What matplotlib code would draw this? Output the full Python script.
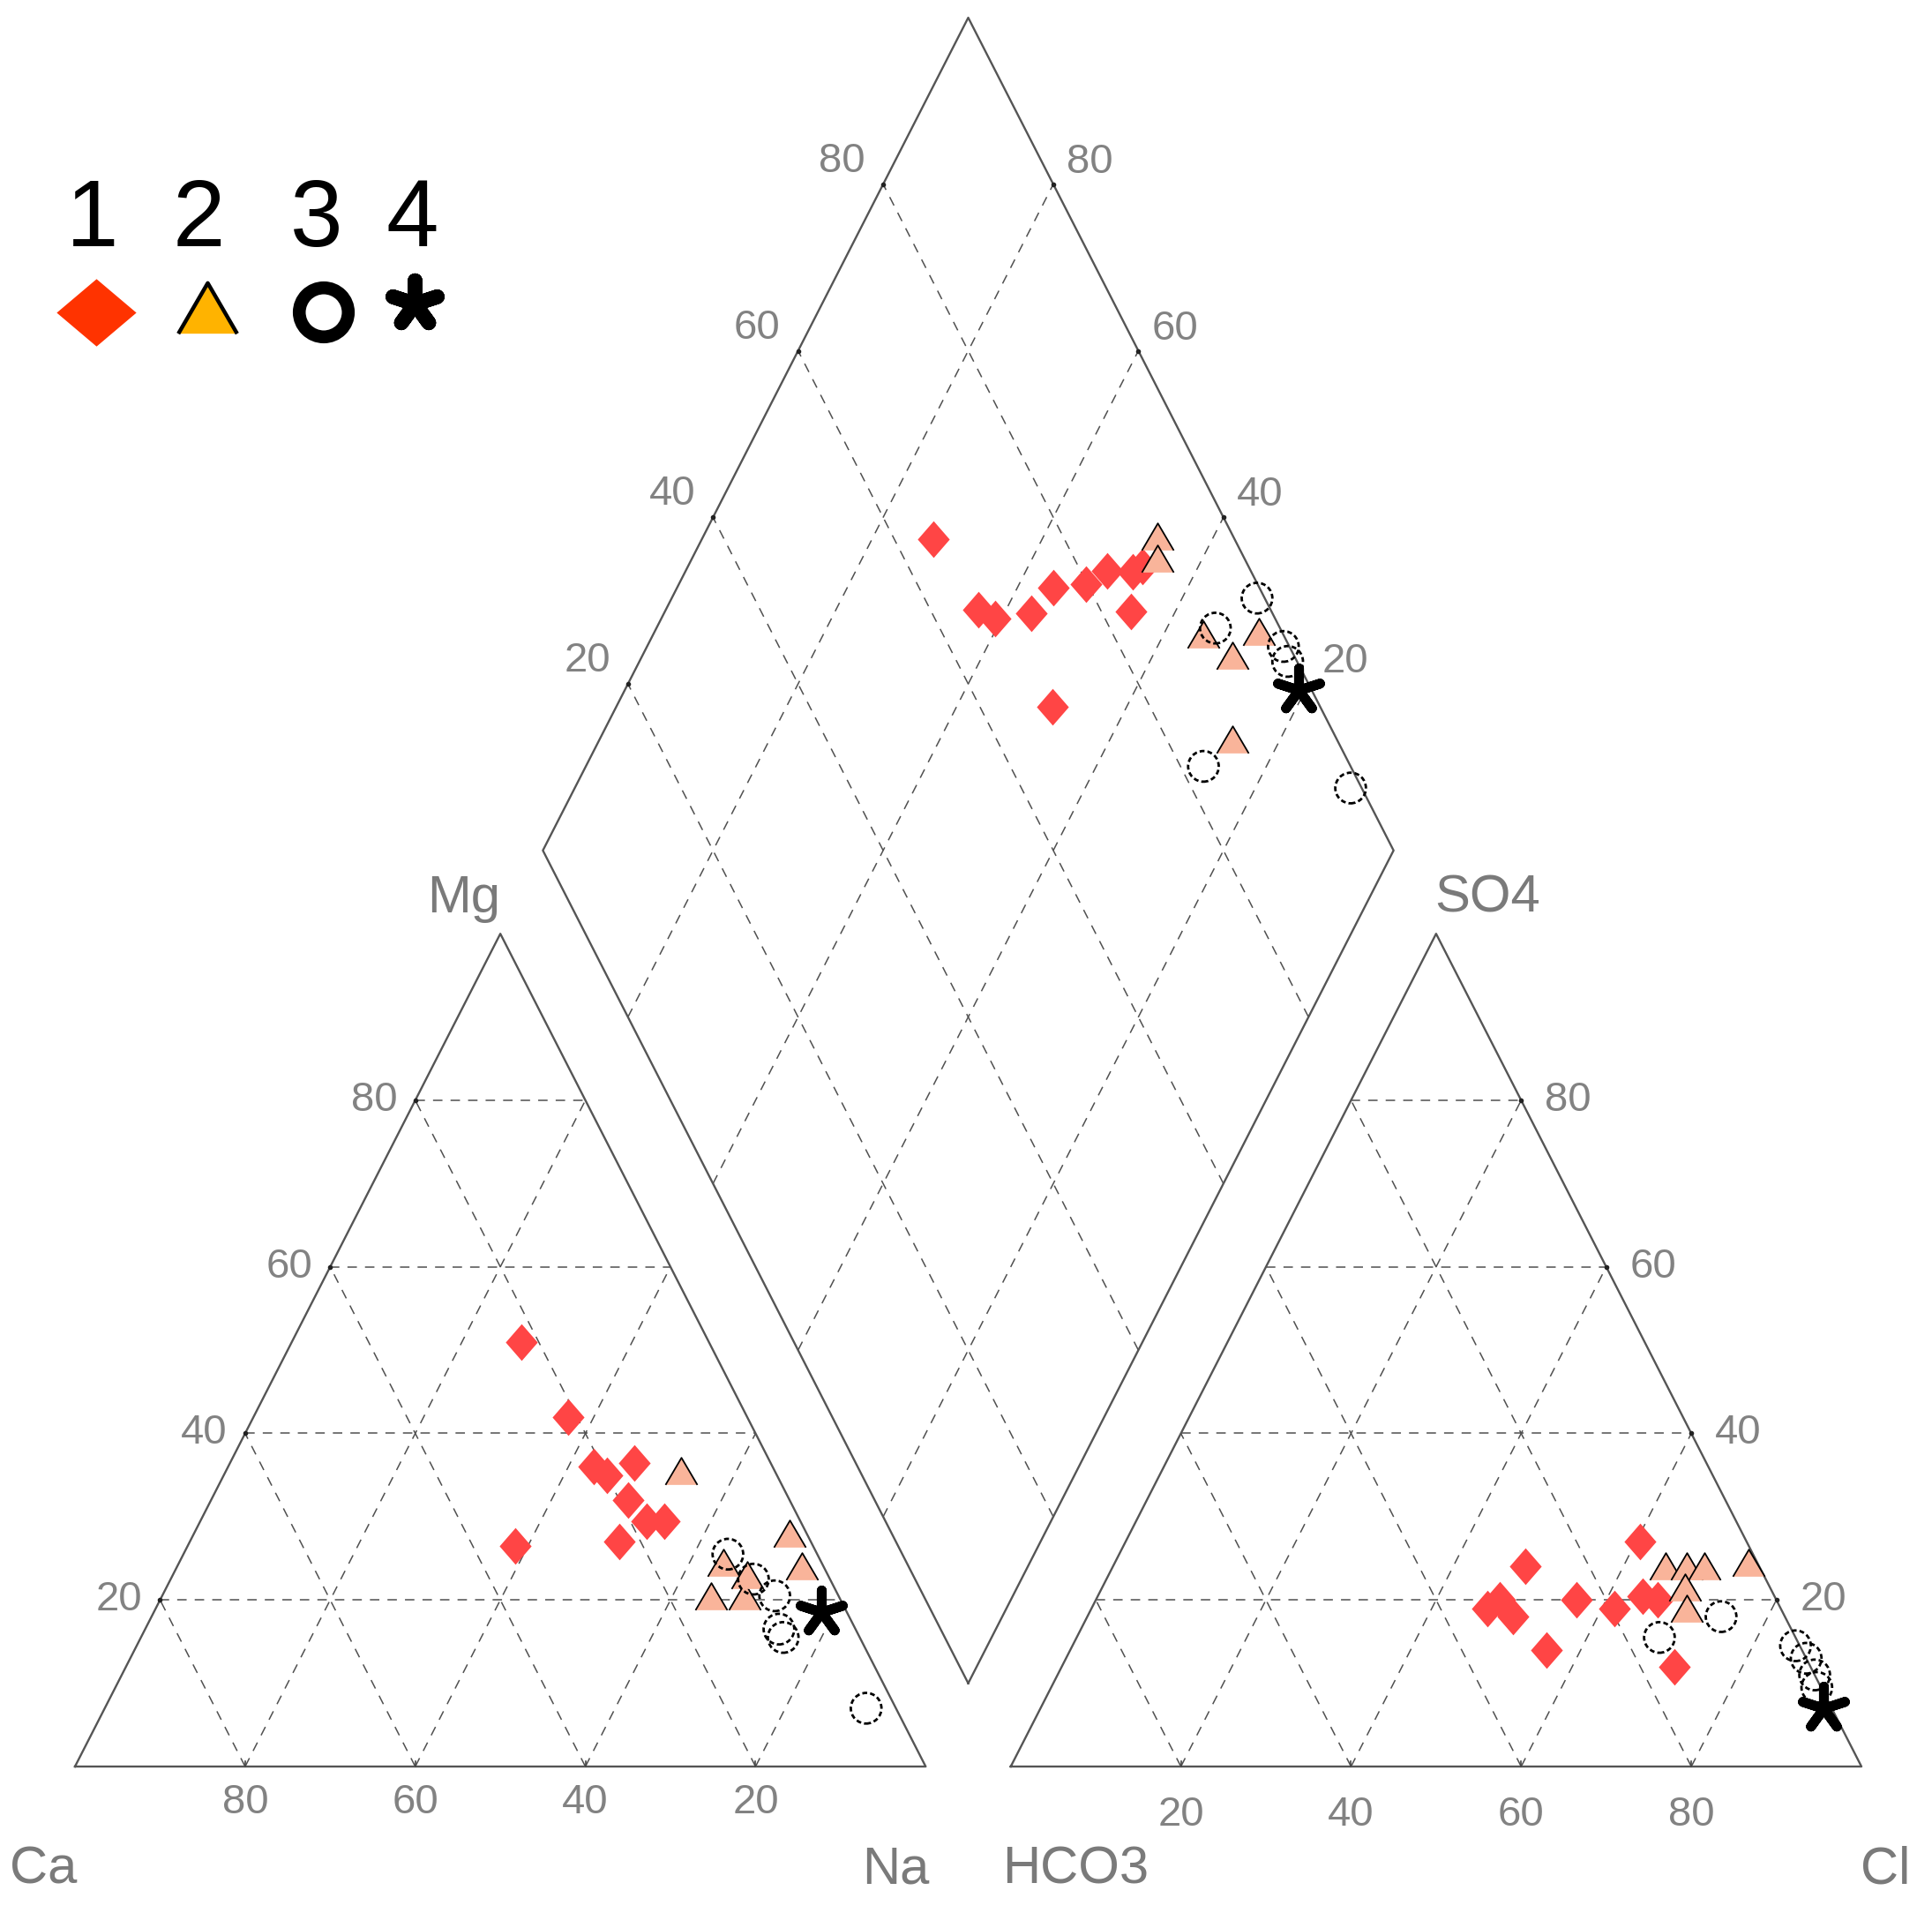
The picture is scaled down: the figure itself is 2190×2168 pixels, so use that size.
import numpy as np
import matplotlib
matplotlib.use("Agg")
import matplotlib.pyplot as plt
from matplotlib import font_manager

# ---- data (percent of meq) ----
# cation triangle: Ca, Mg  (Na = 100 - Ca - Mg)
cat_ca_1 = [22, 21, 21, 20, 16, 19, 18, 16, 22.5, 35]
cat_mg_1 = [51, 42, 36, 35, 36.5, 32, 29.5, 29.5, 27, 26.5]
cat_ca_2 = [11, 2, 2.5, 11.5, 15, 11, 9.5]
cat_mg_2 = [35.5, 28, 24, 24.5, 20.5, 20.5, 23]
cat_ca_3 = [10.5, 9, 7.5, 9, 9, 3.5]
cat_mg_3 = [25.5, 22.5, 20.5, 16.5, 15.5, 7]
cat_ca_4 = [3]
cat_mg_4 = [18.5]

# anion triangle: Cl, SO4  (HCO3 = 100 - Cl - SO4)
an_cl_1 = [60.5, 48.5, 46.5, 47.5, 50, 56.5, 61.5, 64, 66, 56, 72]
an_so4_1 = [27, 24, 19, 20, 18, 20, 19, 20.5, 20, 14, 12]
an_cl_2 = [65, 67.5, 69.5, 74.5, 68.5, 70]
an_so4_2 = [24, 24, 24, 24.5, 21.5, 19]
an_cl_3 = [74.5, 68.5, 85, 87, 89, 90]
an_so4_3 = [18, 15.5, 14.5, 13, 11, 9.5]
an_cl_4 = [92]
an_so4_4 = [7]

# diamond: Ca+Mg, SO4+Cl
dm_camg_1 = [72.8, 63.3, 60.8, 56.8, 55.8, 52.2, 50.5, 47.4, 46.6, 45.2, 48.7]
dm_so4cl_1 = [64.6, 65.6, 67.1, 71.7, 75.8, 79.8, 83.1, 86.1, 87.5, 83.5, 68.6]
dm_camg_2 = [46.6, 45.3, 35.3, 30.6, 29.0, 25.6]
dm_so4cl_2 = [91.1, 89.7, 90.6, 92.8, 97.3, 87.7]
dm_camg_3 = [31.2, 34.3, 25.2, 23.8, 27.4, 8.8]
dm_so4cl_3 = [99.1, 92.4, 99.3, 98.9, 82.7, 98.7]
dm_camg_4 = [20.8]
dm_so4cl_4 = [98.5]

ticks = [20, 40, 60, 80]
group_names = ["1", "2", "3", "4"]

H = np.sqrt(3) / 2
GAP = 10


def cation_xy(ca, mg):
    ca = np.asarray(ca, float); mg = np.asarray(mg, float)
    na = 100 - ca - mg
    return na + mg / 2, mg * H


def anion_xy(cl, so4):
    cl = np.asarray(cl, float); so4 = np.asarray(so4, float)
    return 100 + GAP + cl + so4 / 2, so4 * H


def diamond_xy(camg, so4cl):
    a = np.asarray(camg, float) / 100; b = np.asarray(so4cl, float) / 100
    return 100 + GAP / 2 + 50 * (b - a), GAP * H + 100 * H * (a + b)


names = {f.name for f in font_manager.fontManager.ttflist}
narrow = "Liberation Sans Narrow" if "Liberation Sans Narrow" in names else "Liberation Sans"

fig = plt.figure(figsize=(21.9, 21.68), dpi=100)
ax = fig.add_axes([0, 0, 1, 1])
# pixel scale of the original: 9.643 px per unit in x, 10.898 in y
SX, SY = 9.643, 10.898
ax.set_xlim(-85 / SX, (2190 - 85) / SX)
ax.set_ylim((2002 - 2168) / SY, 2002 / SY)
ax.axis("off")

edge_kw = dict(color="#555555", lw=1.7, zorder=3)
grid_kw = dict(color="#505050", lw=1.1, ls=(0, (7, 6)), zorder=1)

# outlines
x, y = cation_xy([100, 0, 0, 100], [0, 0, 100, 0])
ax.plot(x, y, **edge_kw)
x, y = anion_xy([0, 100, 0, 0], [0, 0, 100, 0])
ax.plot(x, y, **edge_kw)
x, y = diamond_xy([0, 100, 100, 0, 0], [0, 0, 100, 100, 0])
ax.plot(x, y, **edge_kw)

# grids
for v in ticks:
    for a, b in [((100 - v, 0), (v, v)), ((100 - v, 0), (0, 100 - v)), ((v, v), (0, 100 - v))]:
        x, y = cation_xy(a, b); ax.plot(x, y, **grid_kw)
    for a, b in [((0, 100 - v), (v, v)), ((v, v), (0, 100 - v)), ((100 - v, 0), (0, 100 - v))]:
        x, y = anion_xy(a, b); ax.plot(x, y, **grid_kw)
    x, y = diamond_xy([v, v], [0, 100]); ax.plot(x, y, **grid_kw)
    x, y = diamond_xy([0, 100], [v, v]); ax.plot(x, y, **grid_kw)

lab_kw = dict(color="#828282", fontsize=34, family=[narrow, "DejaVu Sans"])
tl = 6 / SY
for v in ticks:
    # bottom ticks and labels
    x, y = cation_xy(v, 0)
    ax.plot([x, x], [0, tl], color="#444444", lw=1.2, zorder=3)
    ax.text(x, -41 / SY, str(v), ha="center", va="center", **lab_kw)
    x, y = anion_xy(v, 0)
    ax.plot([x, x], [0, tl], color="#444444", lw=1.2, zorder=3)
    ax.text(x, -55 / SY, str(v), ha="center", va="center", **lab_kw)
    # side labels
    x, y = cation_xy(100 - v, v)
    ax.plot(x, y, "o", color="#222222", ms=3, zorder=3)
    ax.text(x - 20 / SX, y, str(v), ha="right", va="center", **lab_kw)
    x, y = anion_xy(100 - v, v)
    ax.plot(x, y, "o", color="#222222", ms=3, zorder=3)
    ax.text(x + 27 / SX, y, str(v), ha="left", va="center", **lab_kw)
    # diamond labels
    x, y = diamond_xy(100, v)
    ax.plot(x, y, "o", color="#222222", ms=3, zorder=3)
    ax.text(x - 20 / SX, y + 4 / SY, str(v), ha="right", va="bottom", **lab_kw)
    x, y = diamond_xy(v, 100)
    ax.plot(x, y, "o", color="#222222", ms=3, zorder=3)
    ax.text(x + 15 / SX, y + 3 / SY, str(v), ha="left", va="bottom", **lab_kw)

# corner labels
corner_kw = dict(color="#7a7a7a", fontsize=43, ha="center", va="center", family=[narrow, "DejaVu Sans"])
x, y = cation_xy(100, 0); ax.text(x - 36 / SX, y - 117 / SY, "Ca", **corner_kw)
x, y = cation_xy(0, 0); ax.text(x - 34 / SX, y - 117 / SY, "Na", **corner_kw)
x, y = cation_xy(0, 100); ax.text(x - 42 / SX, y + 40 / SY, "Mg", **corner_kw)
x, y = anion_xy(0, 0); ax.text(x + 73 / SX, y - 117 / SY, "HCO3", **corner_kw)
x, y = anion_xy(100, 0); ax.text(x + 27 / SX, y - 117 / SY, "Cl", **corner_kw)
x, y = anion_xy(0, 100); ax.text(x + 58 / SX, y + 40 / SY, "SO4", **corner_kw)

# marker styles
diamond_m = [(-1, 0), (0, 1.15), (1, 0), (0, -1.15)]
tri_m = [(-1, -0.85), (0, 0.85), (1, -0.85)]
s1 = dict(marker=diamond_m, s=30 ** 2, color="#ff4545", linewidths=0, zorder=5)
s2 = dict(marker=tri_m, s=26 ** 2, facecolor="#f9b49a", edgecolor="black", linewidths=1.3, zorder=6)
s3 = dict(marker="o", s=25 ** 2, facecolor="none", edgecolor="black", linewidths=2.0,
          linestyle=(0, (2, 1.2)), zorder=7)
s4 = dict(marker=(5, 2, 0), s=36 ** 2, color="black", linewidths=8, zorder=8)

for fn, groups in [
    (cation_xy, [(cat_ca_1, cat_mg_1), (cat_ca_2, cat_mg_2), (cat_ca_3, cat_mg_3), (cat_ca_4, cat_mg_4)]),
    (anion_xy, [(an_cl_1, an_so4_1), (an_cl_2, an_so4_2), (an_cl_3, an_so4_3), (an_cl_4, an_so4_4)]),
    (diamond_xy, [(dm_camg_1, dm_so4cl_1), (dm_camg_2, dm_so4cl_2), (dm_camg_3, dm_so4cl_3),
                  (dm_camg_4, dm_so4cl_4)]),
]:
    for (p, q), st in zip(groups, [s1, s2, s3, s4]):
        x, y = fn(p, q)
        ax.scatter(x, y, **st)

# legend (numbers above symbols)
def px(xp, yp):
    return (xp - 85) / SX, (2002 - yp) / SY

leg_x = [105, 225, 359, 467]
for name, xp in zip(group_names, leg_x):
    x, y = px(xp, 279)
    ax.text(x, y, name, ha="center", va="baseline", fontsize=77, color="black",
            family=["Liberation Sans", "DejaVu Sans"])
x, y = px(109, 354)
ax.scatter(x, y, marker=[(-1, 0), (0, 0.846), (1, 0), (0, -0.846)], s=65 ** 2, color="#ff3300", linewidths=0)
x, y = px(235, 349)
ax.scatter(x, y, marker=[(-1, -0.86), (0, 0.86), (1, -0.86)], s=48 ** 2, facecolor="#ffb300",
           edgecolor="black", linewidths=3.2)
x, y = px(367, 354)
ax.scatter(x, y, marker="o", s=40 ** 2, facecolor="none", edgecolor="black", linewidths=10.5)
x, y = px(470, 344)
ax.scatter(x, y, marker=(5, 2, 0), s=38 ** 2, color="black", linewidths=12)

fig.savefig("out.png", dpi=100, facecolor="white")
